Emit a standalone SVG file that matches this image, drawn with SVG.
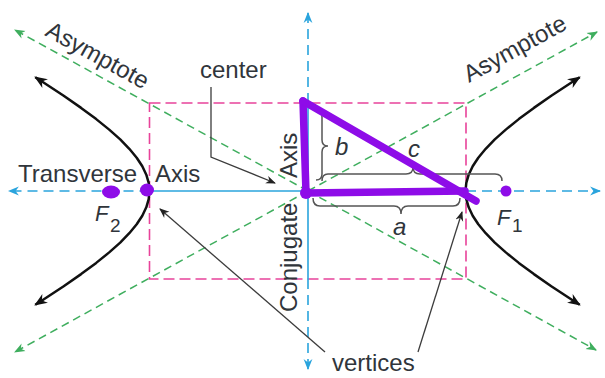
<svg xmlns="http://www.w3.org/2000/svg" width="605" height="378" viewBox="0 0 605 378">
<style>
  .bl{stroke:#2aa4dd;stroke-width:1.6;fill:none}
  .dash{stroke-dasharray:10 6}
  .gr{stroke:#3fae5e;stroke-width:1.5;fill:none;stroke-dasharray:8 5}
  .mg{stroke:#e8439a;stroke-width:1.6;fill:none;stroke-dasharray:11 5}
  .hyp{stroke:#111;stroke-width:2.5;fill:none;stroke-linejoin:round}
  .lead{stroke:#3c3c3c;stroke-width:1.3;fill:none}
  .br{stroke:#555;stroke-width:1.5;fill:none}
  .t{font-family:"Liberation Sans",Arial,sans-serif;font-size:24px;fill:#30353b}
  .it{font-family:"Liberation Sans",Arial,sans-serif;font-style:italic;fill:#30353b}
  .sub{font-family:"Liberation Sans",Arial,sans-serif;fill:#30353b}
  .pp{stroke:#8e0ce8;stroke-width:7.5;fill:none;stroke-linecap:round;stroke-linejoin:round}
</style>
<defs>
  <marker id="mb" viewBox="0 0 10 10" refX="9" refY="5" markerWidth="11" markerHeight="11" markerUnits="userSpaceOnUse" orient="auto-start-reverse"><path d="M0,1 L10,5 L0,9 L3,5 Z" fill="#2aa4dd"/></marker>
  <marker id="mgm" viewBox="0 0 10 10" refX="9" refY="5" markerWidth="11" markerHeight="11" markerUnits="userSpaceOnUse" orient="auto-start-reverse"><path d="M0,1 L10,5 L0,9 L3,5 Z" fill="#3fae5e"/></marker>
  <marker id="mk" viewBox="0 0 10 10" refX="9" refY="5" markerWidth="13" markerHeight="13" markerUnits="userSpaceOnUse" orient="auto-start-reverse"><path d="M0,1 L10,5 L0,9 L3,5 Z" fill="#111"/></marker>
  <marker id="ml" viewBox="0 0 10 10" refX="9" refY="5" markerWidth="10" markerHeight="10" markerUnits="userSpaceOnUse" orient="auto-start-reverse"><path d="M0,1 L10,5 L0,9 L3,5 Z" fill="#222"/></marker>
</defs>

<g id="box">
  <rect class="mg" x="149.5" y="103" width="316.5" height="176"/>
</g>

<g id="asymptotes">
  <line class="gr" x1="308" y1="191" x2="15" y2="30" marker-end="url(#mgm)"/>
  <line class="gr" x1="308" y1="191" x2="597" y2="32" marker-end="url(#mgm)"/>
  <line class="gr" x1="308" y1="191" x2="15" y2="352" marker-end="url(#mgm)"/>
  <line class="gr" x1="308" y1="191" x2="596" y2="350" marker-end="url(#mgm)"/>
</g>

<g id="axes">
  <line class="bl dash" x1="149.5" y1="191" x2="9" y2="191" marker-end="url(#mb)"/>
  <line class="bl" x1="149.5" y1="191" x2="466" y2="191"/>
  <line class="bl dash" x1="466" y1="191" x2="600" y2="191" marker-end="url(#mb)"/>
  <line class="bl dash" x1="308" y1="103" x2="308" y2="13" marker-end="url(#mb)"/>
  <line class="bl" x1="308" y1="103" x2="308" y2="279"/>
  <line class="bl dash" x1="308" y1="279" x2="308" y2="369" marker-end="url(#mb)"/>
</g>

<g id="hyperbola">
  <path class="hyp" marker-start="url(#mk)" marker-end="url(#mk)" d="M579.7,77.3 L571.1,82.8 L551.3,95.8 L533.9,107.9 L518.8,119.1 L505.8,129.6 L494.8,139.4 L485.7,148.8 L478.3,157.7 L472.7,166.3 L468.7,174.7 L466.3,182.9 L465.5,191 L466.3,199.1 L468.7,207.3 L472.7,215.7 L478.3,224.3 L485.7,233.2 L494.8,242.6 L505.8,252.4 L518.8,262.9 L533.9,274.1 L551.3,286.2 L571.1,299.2 L579.7,304.7"/>
  <path class="hyp" marker-start="url(#mk)" marker-end="url(#mk)" d="M35.3,77.3 L43.9,82.8 L63.7,95.8 L81.1,107.9 L96.2,119.1 L109.2,129.6 L120.2,139.4 L129.3,148.8 L136.7,157.7 L142.3,166.3 L146.3,174.7 L148.7,182.9 L149.5,191 L148.7,199.1 L146.3,207.3 L142.3,215.7 L136.7,224.3 L129.3,233.2 L120.2,242.6 L109.2,252.4 L96.2,262.9 L81.1,274.1 L63.7,286.2 L43.9,299.2 L35.3,304.7"/>
</g>

<g id="braces">
  <path class="br" d="M316,111 Q322,111 322,117 L322,140 Q322,146 328,146 Q322,146 322,152 L322,174 Q322,180 316,180"/>
  <path class="br" d="M322,181 Q322,174 328,174 L406,174 Q413,174 413,167 Q413,174 420,174 L495,174 Q502,174 502,181"/>
  <path class="br" d="M313,198 Q313,206 320,206 L394,206 Q401,206 401,214 Q401,206 408,206 L453,206 Q460,206 460,198"/>
</g>

<g id="connectors">
  <path class="lead" d="M211,87 L211,157 L275,183" marker-end="url(#ml)"/>
  <path class="lead" d="M325,352 L160,209" marker-end="url(#ml)"/>
  <path class="lead" d="M418,352 L462,212" marker-end="url(#ml)"/>
</g>

<g id="label-asymptote-left"><text class="t" transform="translate(44,35) rotate(28.8)">Asymptote</text></g>
<g id="label-asymptote-right"><text class="t" transform="translate(469,83) rotate(-28.8)">Asymptote</text></g>
<g id="label-center"><text class="t" x="200" y="78">center</text></g>
<g id="label-transverse"><text class="t" x="18" y="182">Transverse</text><text class="t" x="155" y="182">Axis</text></g>
<g id="label-conjugate"><text class="t" transform="translate(297,312) rotate(-90)">Conjugate</text><text class="t" transform="translate(297,178) rotate(-90)">Axis</text></g>
<g id="label-vertices"><text class="t" x="332" y="371">vertices</text></g>
<g id="label-b"><text class="it" x="335" y="155" font-size="24">b</text></g>
<g id="label-c"><text class="it" x="408" y="157" font-size="24">c</text></g>
<g id="label-a"><text class="it" x="393" y="235" font-size="24">a</text></g>
<g id="label-f2"><text class="it" x="95" y="221" font-size="22">F</text><text class="sub" x="110" y="232" font-size="19">2</text></g>
<g id="label-f1"><text class="it" x="497" y="225" font-size="22">F</text><text class="sub" x="512" y="232" font-size="19">1</text></g>

<g id="annotations">
  <path class="pp" d="M303,101 L306,193 L465,191"/>
  <path class="pp" d="M303,101 L476,201"/>
  <circle cx="306" cy="193" r="6" fill="#8e0ce8"/>
  <ellipse cx="111" cy="192" rx="9" ry="6.5" fill="#8e0ce8"/>
  <ellipse cx="147" cy="190" rx="7" ry="6.5" fill="#8e0ce8"/>
  <circle cx="506" cy="191" r="5.5" fill="#8e0ce8"/>
</g>
</svg>
